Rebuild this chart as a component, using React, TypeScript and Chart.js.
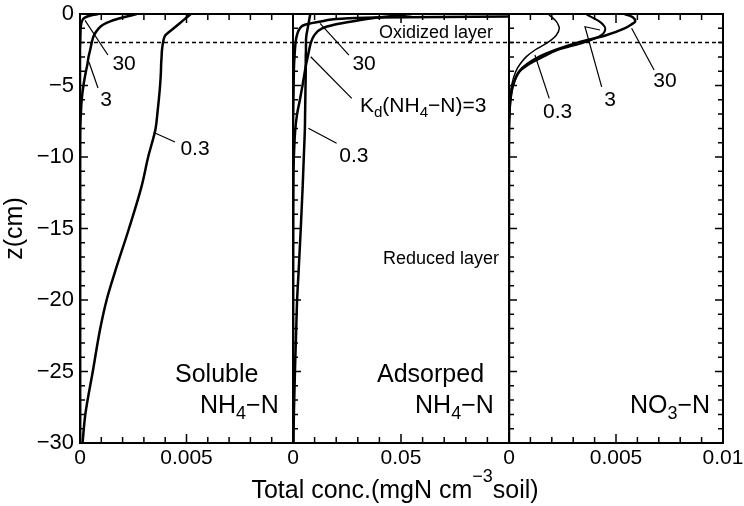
import React, { useEffect, useRef } from 'react';
import { Chart, registerables } from 'chart.js';

Chart.register(...registerables);

const FONT = '"Liberation Sans", Arial, Helvetica, sans-serif';
Chart.defaults.font.family = FONT;
Chart.defaults.color = '#000';

const W = 744;
const H = 506;

// ---------------- data ----------------
// depth below the surface (cm)
const DEPTH = [0, -0.1, -0.25, -0.5, -0.75, -1, -1.5, -2, -2.5, -3, -3.5, -4, -5, -6, -7, -8, -10, -12, -15, -18, -20, -22, -25, -28, -30];

const KD_VALUES = ['0.3', '3', '30'];

// Soluble NH4-N (mgN cm^-3 soil)
const SOLUBLE_KD_0_3 = [0.0052, 0.00512, 0.005, 0.0048, 0.0046, 0.0044, 0.004, 0.0039, 0.00385, 0.00383, 0.00381, 0.0038, 0.00376, 0.0037, 0.00363, 0.00355, 0.0032, 0.0029, 0.0023, 0.00165, 0.00125, 0.00095, 0.0006, 0.00025, 0.00012];
const SOLUBLE_KD_3 = [0.00266, 0.0024, 0.002, 0.00145, 0.00108, 0.00088, 0.00065, 0.00055, 0.00048, 0.0004, 0.00035, 0.00028, 0.00016, 0.00008, 0.00004, 0.00001, 0, 0, 0, 0, 0, 0, 0, 0, 0];
const SOLUBLE_KD_30 = [0.00086, 0.0005, 0.00022, 0.00009, 0.00005, 0.00003, 0.00002, 0.00001, 0, 0, 0, 0, 0, 0, 0, 0, 0, 0, 0, 0, 0, 0, 0, 0, 0];

// Adsorbed NH4-N
const ADSORBED_KD_0_3 = [0.0081, 0.0079, 0.0077, 0.0074, 0.0071, 0.0068, 0.0062, 0.006, 0.006, 0.0059, 0.0059, 0.0059, 0.0058, 0.0057, 0.0056, 0.0055, 0.005, 0.0045, 0.0036, 0.0026, 0.0019, 0.0015, 0.0009, 0.0004, 0.0002];
const ADSORBED_KD_3 = [0.055, 0.048, 0.039, 0.028, 0.019, 0.0135, 0.0098, 0.0083, 0.0075, 0.0068, 0.0061, 0.0055, 0.0044, 0.0032, 0.0019, 0.0011, 0.0004, 0.00015, 0.00005, 0, 0, 0, 0, 0, 0];
const ADSORBED_KD_30 = [0.25, 0.16, 0.038, 0.0135, 0.0055, 0.0032, 0.0018, 0.0012, 0.0009, 0.0007, 0.0005, 0.0004, 0.0003, 0.0002, 0.0001, 0, 0, 0, 0, 0, 0, 0, 0, 0, 0];

// NO3-N
const NITRATE_KD_0_3 = [0.00184, 0.0019, 0.00203, 0.0022, 0.0023, 0.00235, 0.0022, 0.0018, 0.00123, 0.0008, 0.00052, 0.00032, 0.00012, 0.00005, 0.00002, 0.00001, 0, 0, 0, 0, 0, 0, 0, 0, 0];
const NITRATE_KD_3 = [0.0036, 0.0037, 0.0039, 0.0042, 0.0044, 0.0045, 0.0043, 0.0035, 0.0023, 0.0016, 0.00095, 0.00052, 0.0002, 0.00008, 0.00003, 0.00001, 0, 0, 0, 0, 0, 0, 0, 0, 0];
const NITRATE_KD_30 = [0.0054, 0.0056, 0.0058, 0.0059, 0.0057, 0.0054, 0.0045, 0.0032, 0.0022, 0.0014, 0.00085, 0.00048, 0.00018, 0.00006, 0.00002, 0, 0, 0, 0, 0, 0, 0, 0, 0, 0];

const Z_MIN = -30;
const Z_MAX = 0;
const Z_LABEL_EVERY = 5;
const OXIDIZED_BOUNDARY = -2;

const SOLUBLE_TICK_LABELS = [0, 0.005];
const ADSORBED_TICK_LABELS = [0, 0.05];
const NITRATE_TICK_LABELS = [0, 0.005, 0.01];

const Y_TITLE = 'z(cm)';
const X_TITLE = [{ t: 'Total conc.(mgN cm' }, { t: '\u22123', sup: true }, { t: 'soil)' }];

// ---------------- layout ----------------
const PLOT_TOP = 14;
const PLOT_BOTTOM = 443;
const X_TITLE_CENTER = 395;
const X_TITLE_BASELINE = 498;

type Seg = { t: string; sub?: boolean; sup?: boolean };
type Note = { x: number; z: number; segs: Seg[]; size: number; align: 'left' | 'center' };

const NH4N: Seg[] = [{ t: 'NH' }, { t: '4', sub: true }, { t: '\u2212N' }];
const NO3N: Seg[] = [{ t: 'NO' }, { t: '3', sub: true }, { t: '\u2212N' }];
const KD3: Seg[] = [{ t: 'K' }, { t: 'd', sub: true }, { t: '(NH' }, { t: '4', sub: true }, { t: '\u2212N)=3' }];

const PANELS = [
  {
    key: 'soluble',
    left: 80,
    right: 293,
    showY: true,
    xMax: 0.01,
    xStep: 0.001,
    tickLabels: SOLUBLE_TICK_LABELS,
    series: [SOLUBLE_KD_0_3, SOLUBLE_KD_3, SOLUBLE_KD_30],
    widths: [2.5, 2.5, 2.5],
    rightTicks: false,
    xTitle: false,
    notes: [
      { x: 0.00207, z: -3.92, segs: [{ t: '30' }], size: 21, align: 'center' },
      { x: 0.00122, z: -6.43, segs: [{ t: '3' }], size: 21, align: 'center' },
      { x: 0.0054, z: -9.86, segs: [{ t: '0.3' }], size: 21, align: 'center' },
      { x: 0.00446, z: -25.71, segs: [{ t: 'Soluble' }], size: 25, align: 'left' },
      { x: 0.00563, z: -27.88, segs: NH4N, size: 25, align: 'left' },
    ] as Note[],
    leaders: [
      [[0.000235, -0.45], [0.00131, -2.87]],
      [[0.00042, -3.36], [0.000845, -5.17]],
      [[0.00352, -8.32], [0.00446, -8.95]],
    ],
  },
  {
    key: 'adsorbed',
    left: 293,
    right: 509,
    showY: false,
    xMax: 0.1,
    xStep: 0.01,
    tickLabels: ADSORBED_TICK_LABELS,
    series: [ADSORBED_KD_0_3, ADSORBED_KD_3, ADSORBED_KD_30],
    widths: [2.5, 2.5, 2.5],
    rightTicks: false,
    xTitle: true,
    notes: [
      { x: 0.0329, z: -3.92, segs: [{ t: '30' }], size: 21, align: 'center' },
      { x: 0.031, z: -6.83, segs: KD3, size: 21, align: 'left' },
      { x: 0.0282, z: -10.33, segs: [{ t: '0.3' }], size: 21, align: 'center' },
      { x: 0.0398, z: -1.7, segs: [{ t: 'Oxidized layer' }], size: 18, align: 'left' },
      { x: 0.0685, z: -17.5, segs: [{ t: 'Reduced layer' }], size: 18, align: 'center' },
      { x: 0.0389, z: -25.71, segs: [{ t: 'Adsorped' }], size: 25, align: 'left' },
      { x: 0.0565, z: -27.88, segs: NH4N, size: 25, align: 'left' },
    ] as Note[],
    leaders: [
      [[0.0125, -0.65], [0.0259, -2.87]],
      [[0.0082, -2.99], [0.0272, -5.9]],
      [[0.0071, -7.99], [0.0202, -9.04]],
    ],
  },
  {
    key: 'nitrate',
    left: 509,
    right: 723,
    showY: false,
    xMax: 0.01,
    xStep: 0.001,
    tickLabels: NITRATE_TICK_LABELS,
    series: [NITRATE_KD_0_3, NITRATE_KD_3, NITRATE_KD_30],
    widths: [1.5, 2, 2.5],
    rightTicks: true,
    xTitle: false,
    notes: [
      { x: 0.00227, z: -7.29, segs: [{ t: '0.3' }], size: 21, align: 'center' },
      { x: 0.00472, z: -6.43, segs: [{ t: '3' }], size: 21, align: 'center' },
      { x: 0.00729, z: -5.13, segs: [{ t: '30' }], size: 21, align: 'center' },
      { x: 0.00565, z: -27.88, segs: NO3N, size: 25, align: 'left' },
    ] as Note[],
    leaders: [
      [[0.00121, -2.87], [0.00188, -5.9]],
      [[0.00425, -1.12], [0.00355, -0.89], [0.00433, -5.09]],
      [[0.00573, -1.0], [0.00678, -3.92]],
    ],
  },
];

type PanelDef = (typeof PANELS)[number];

function drawRich(ctx: CanvasRenderingContext2D, segs: Seg[], x: number, y: number, size: number, align: string) {
  const sizeOf = (s: Seg) => (s.sub || s.sup ? size * 0.72 : size);
  let w = 0;
  for (const s of segs) {
    ctx.font = `${sizeOf(s)}px ${FONT}`;
    w += ctx.measureText(s.t).width;
  }
  let cx = align === 'center' ? x - w / 2 : align === 'right' ? x - w : x;
  ctx.textAlign = 'left';
  ctx.textBaseline = 'alphabetic';
  for (const s of segs) {
    ctx.font = `${sizeOf(s)}px ${FONT}`;
    const dy = s.sub ? size * 0.24 : s.sup ? -size * 0.66 : 0;
    ctx.fillText(s.t, cx, y + dy);
    cx += ctx.measureText(s.t).width;
  }
}

function makeDecor(p: PanelDef) {
  return {
    id: 'decor_' + p.key,
    afterDatasetsDraw(chart: any) {
      const { ctx, chartArea: a } = chart;
      const xs = chart.scales.x;
      const ys = chart.scales.y;
      ctx.save();
      ctx.strokeStyle = '#000';
      ctx.fillStyle = '#000';
      // inward tick marks
      ctx.lineWidth = 1.5;
      ctx.beginPath();
      for (let z = Z_MAX; z >= Z_MIN; z--) {
        const py = ys.getPixelForValue(z);
        const len = z % Z_LABEL_EVERY === 0 ? 8 : 5;
        ctx.moveTo(a.left, py);
        ctx.lineTo(a.left + len, py);
        if (p.rightTicks) {
          ctx.moveTo(a.right, py);
          ctx.lineTo(a.right - len, py);
        }
      }
      const n = Math.round(p.xMax / p.xStep);
      for (let i = 0; i <= n; i++) {
        const px = xs.getPixelForValue(i * p.xStep);
        const len = i % 5 === 0 ? 9 : 6;
        ctx.moveTo(px, a.top);
        ctx.lineTo(px, a.top + len);
        ctx.moveTo(px, a.bottom);
        ctx.lineTo(px, a.bottom - len);
      }
      ctx.stroke();
      // frame
      ctx.lineWidth = 2;
      ctx.strokeRect(a.left, a.top, a.right - a.left, a.bottom - a.top);
      // leader lines
      ctx.lineWidth = 1.2;
      for (const l of p.leaders) {
        ctx.beginPath();
        l.forEach((pt: number[], i: number) => {
          const px = xs.getPixelForValue(pt[0]);
          const py = ys.getPixelForValue(pt[1]);
          if (i === 0) ctx.moveTo(px, py);
          else ctx.lineTo(px, py);
        });
        ctx.stroke();
      }
      // notes
      for (const nt of p.notes) {
        drawRich(ctx, nt.segs, xs.getPixelForValue(nt.x), ys.getPixelForValue(nt.z), nt.size, nt.align);
      }
      if (p.xTitle) {
        drawRich(ctx, X_TITLE, X_TITLE_CENTER, X_TITLE_BASELINE, 25, 'center');
      }
      ctx.restore();
    },
  };
}

function zeroPadding(s: any) {
  s.paddingLeft = 0;
  s.paddingRight = 0;
  s.paddingTop = 0;
  s.paddingBottom = 0;
}

function buildConfig(p: PanelDef): any {
  const curves = p.series.map((vals, i) => ({
    label: 'Kd=' + KD_VALUES[i],
    data: DEPTH.map((z, j) => ({ x: vals[j], y: z })),
    borderColor: '#000',
    borderWidth: p.widths[i],
    pointRadius: 0,
    fill: false,
    indexAxis: 'y',
    cubicInterpolationMode: 'monotone',
  }));
  const boundary = {
    label: 'boundary',
    data: [
      { x: 0, y: OXIDIZED_BOUNDARY },
      { x: p.xMax, y: OXIDIZED_BOUNDARY },
    ],
    borderColor: '#000',
    borderWidth: 1.5,
    borderDash: [4, 3],
    pointRadius: 0,
    fill: false,
    indexAxis: 'y',
    tension: 0,
  };
  return {
    type: 'line',
    data: { datasets: [boundary, ...curves] },
    options: {
      responsive: false,
      animation: false,
      indexAxis: 'y',
      events: [],
      layout: {
        padding: { left: p.showY ? 0 : p.left, right: W - p.right, top: PLOT_TOP, bottom: 0 },
      },
      plugins: { legend: { display: false }, tooltip: { enabled: false } },
      scales: {
        x: {
          type: 'linear',
          position: 'bottom',
          min: 0,
          max: p.xMax,
          afterFit: (s: any) => {
            s.height = H - PLOT_BOTTOM;
            zeroPadding(s);
          },
          grid: { display: false, drawTicks: false },
          border: { display: false },
          ticks: {
            stepSize: p.xStep,
            autoSkip: false,
            maxRotation: 0,
            padding: 3,
            font: { size: 21 },
            callback: (v: number) => (p.tickLabels.some((t) => Math.abs(t - v) < 1e-9) ? String(v) : ''),
          },
        },
        y: {
          type: 'linear',
          position: 'left',
          display: p.showY,
          min: Z_MIN,
          max: Z_MAX,
          afterFit: (s: any) => {
            s.width = p.showY ? p.left : 0;
            zeroPadding(s);
          },
          grid: { display: false, drawTicks: false },
          border: { display: false },
          ticks: {
            stepSize: 1,
            autoSkip: false,
            padding: 6,
            font: { size: 22 },
            callback: (v: number) => (v % Z_LABEL_EVERY === 0 ? (v < 0 ? '\u2212' + Math.abs(v) : '0') : ''),
          },
          title: { display: true, text: Y_TITLE, font: { size: 25 }, padding: 0, color: '#000' },
        },
      },
    },
    plugins: [makeDecor(p)],
  };
}

function Panel({ panel }: { panel: PanelDef }) {
  const ref = useRef<HTMLCanvasElement>(null);
  useEffect(() => {
    const chart = new Chart(ref.current as HTMLCanvasElement, buildConfig(panel));
    return () => chart.destroy();
  }, [panel]);
  return <canvas ref={ref} width={W} height={H} style={{ position: 'absolute', left: 0, top: 0 }} />;
}

export default function App() {
  return (
    <div style={{ position: 'absolute', left: 0, top: 0, width: W, height: H, background: '#fff' }}>
      {PANELS.map((p) => (
        <Panel key={p.key} panel={p} />
      ))}
    </div>
  );
}
